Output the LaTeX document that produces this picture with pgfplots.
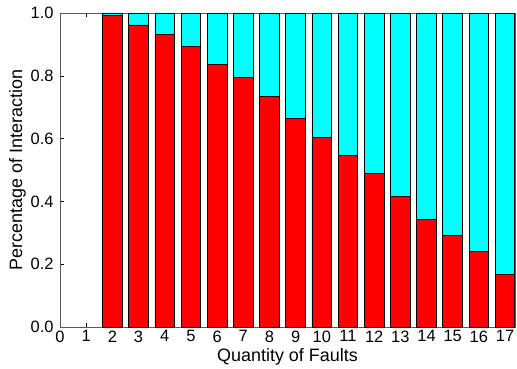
\documentclass[border=0pt]{standalone}
\usepackage{fontspec}
\setmainfont{Liberation Sans}
\usepackage{pgfplots}
\pgfplotsset{compat=1.18}
\usepackage{pgfplotstable}

\definecolor{barred}{RGB}{255,0,0}
\definecolor{barcyan}{RGB}{0,255,255}

% Share of interaction per fault count: red = first part, cyan = remainder
\pgfplotstableread{
x   red    cyan
0   0.000  0.000
1   0.000  0.000
2   0.991  0.009
3   0.962  0.038
4   0.931  0.069
5   0.894  0.106
6   0.837  0.163
7   0.795  0.205
8   0.734  0.266
9   0.665  0.335
10  0.603  0.397
11  0.547  0.453
12  0.490  0.510
13  0.417  0.583
14  0.343  0.657
15  0.291  0.709
16  0.240  0.760
17  0.167  0.833
}\faults

\begin{document}
\begin{tikzpicture}[x=1bp,y=1bp]
\path[use as bounding box] (-60,-41) rectangle (457,327);
\begin{axis}[
  at={(0,0)}, anchor=south west,
  scale only axis,
  width=455bp, height=314bp,
  ybar stacked,
  bar width=0.75,
  xmin=0, xmax=17.38,
  ymin=0, ymax=1,
  xtick={0,...,17},
  ytick={0,0.2,...,1.0},
  y tick label style={/pgf/number format/fixed, /pgf/number format/fixed zerofill, /pgf/number format/precision=1, xshift=-3bp},
  /pgf/number format/assume math mode=true,
  tick align=inside,
  major tick length=4bp,
  tick style={black, line width=0.5pt},
  axis line style={draw=gray!70!black, line width=1pt},
  ticklabel style={font=\fontsize{16.5}{18}\selectfont},
  label style={font=\fontsize{18}{20}\selectfont},
  xlabel={Quantity of Faults},
  ylabel={Percentage of Interaction},
  xlabel style={yshift=1bp},
  ylabel style={yshift=-2bp},
  clip=true,
]
\addplot[fill=barred, draw=black, line width=0.8pt] table[x=x, y=red] {\faults};
\addplot[fill=barcyan, draw=black, line width=0.8pt] table[x=x, y=cyan] {\faults};
\end{axis}
\end{tikzpicture}
\end{document}
